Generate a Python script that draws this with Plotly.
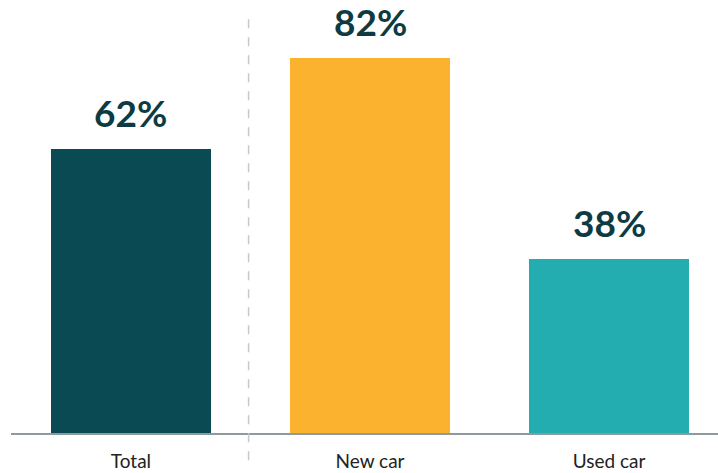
import plotly.graph_objects as go

categories = ["Total", "New car", "Used car"]
values = [62, 82, 38]
colors = ["#0a4a52", "#fbb32f", "#23adb0"]
x_pos = [0, 1, 2]

fig = go.Figure()
fig.add_trace(go.Bar(
    x=x_pos, y=values, width=0.669,
    marker=dict(color=colors, line=dict(width=0)),
    hoverinfo="skip",
))

for xi, v in zip(x_pos, values):
    fig.add_annotation(
        x=xi, y=v, text=f"<b>{v}%</b>", showarrow=False,
        yanchor="bottom", yshift=12,
        font=dict(family="Lato", size=37, color="#0e3b43"),
    )

fig.add_shape(
    type="line", xref="x", yref="paper",
    x0=0.492, x1=0.492, y0=-0.065, y1=0.995,
    line=dict(color="#c8c8c8", width=1.5, dash="dash"),
)

fig.update_layout(
    width=718, height=473,
    margin=dict(l=11, r=0, t=15, b=40),
    plot_bgcolor="white", paper_bgcolor="white",
    showlegend=False,
    bargap=0,
    xaxis=dict(
        range=[-0.502, 2.456],
        tickvals=x_pos, ticktext=categories,
        showline=True, linecolor="#8c9ba0", linewidth=2,
        showgrid=False, zeroline=False, ticks="",
        ticklabelstandoff=10,
        tickfont=dict(family="Lato", size=19, color="#222222"),
    ),
    yaxis=dict(
        range=[0, 91.3], visible=False, showgrid=False, zeroline=False,
    ),
)

fig.write_html("out.html", config={"displayModeBar": False},
               post_script="document.body.style.margin='0';")
